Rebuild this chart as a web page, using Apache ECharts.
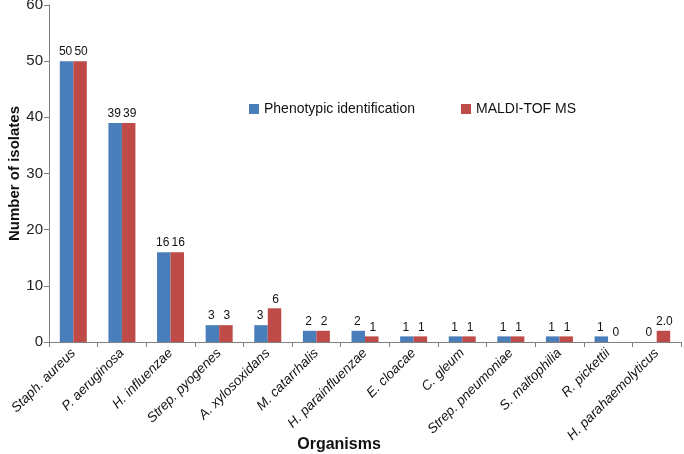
<!DOCTYPE html>
<html>
<head>
<meta charset="utf-8">
<script src="https://cdn.jsdelivr.net/npm/echarts@6/dist/echarts.min.js"></script>
<style>
  html, body { margin: 0; padding: 0; background: #fff; }
  #chart { width: 684px; height: 454px; }
</style>
</head>
<body>
<div id="chart"></div>
<script>
var organisms = ['Staph. aureus', 'P. aeruginosa', 'H. influenzae', 'Strep. pyogenes',
    'A. xylosoxidans', 'M. catarrhalis', 'H. parainfluenzae', 'E. cloacae', 'C. gleum',
    'Strep. pneumoniae', 'S. maltophilia', 'R. pickettii', 'H. parahaemolyticus'];
var phenotypic = [50, 39, 16, 3, 3, 2, 2, 1, 1, 1, 1, 1, 0];
var maldi = [50, 39, 16, 3, 6, 2, 1, 1, 1, 1, 1, 0, 2];
// printed labels (last one is shown as "2.0" in the original)
var maldiLabels = ['50', '39', '16', '3', '6', '2', '1', '1', '1', '1', '1', '0', '2.0'];
var yTicks = { min: 0, max: 60, interval: 10 };

var chart = echarts.init(document.getElementById('chart'));

var option = {
    animation: false,
    textStyle: { fontFamily: 'Liberation Sans, Arial, sans-serif' },
    grid: { left: 49, right: 3, top: 5, bottom: 112, containLabel: false, outerBoundsMode: 'none' },
    legend: {
        left: 244,
        top: 97,
        itemWidth: 10,
        itemHeight: 10,
        itemGap: 46,
        icon: 'rect',
        textStyle: { fontSize: 14, color: '#111' },
        data: ['Phenotypic identification', 'MALDI-TOF MS']
    },
    xAxis: {
        type: 'category',
        data: organisms,
        name: 'Organisms',
        nameLocation: 'middle',
        nameGap: 95,
        nameMoveOverlap: false,
        nameTextStyle: { fontSize: 16, fontWeight: 'bold', color: '#111', padding: [0, 52, 0, 0] },
        axisLine: { lineStyle: { color: '#808080', width: 1 } },
        axisTick: { show: true, length: 5, lineStyle: { color: '#808080' } },
        axisLabel: {
            rotate: 45,
            interval: 0,
            fontSize: 13.5,
            fontStyle: 'italic',
            color: '#111',
            margin: 9
        }
    },
    yAxis: {
        type: 'value',
        min: yTicks.min,
        max: yTicks.max,
        interval: yTicks.interval,
        name: 'Number of isolates',
        nameLocation: 'middle',
        nameGap: 27,
        nameMoveOverlap: false,
        nameTextStyle: { fontSize: 15, fontWeight: 'bold', color: '#111' },
        axisLine: { show: true, lineStyle: { color: '#808080', width: 1 } },
        axisTick: { show: true, length: 5, lineStyle: { color: '#808080' } },
        splitLine: { show: false },
        axisLabel: { fontSize: 15, color: '#222', margin: 6 }
    },
    series: [
        {
            name: 'Phenotypic identification',
            type: 'bar',
            data: phenotypic,
            barWidth: 13.5,
            barGap: '0%',
            itemStyle: { color: '#4A7EBB' },
            label: { show: true, position: 'top', distance: 3, offset: [-1, 0], fontSize: 12, color: '#111' }
        },
        {
            name: 'MALDI-TOF MS',
            type: 'bar',
            data: maldi,
            barWidth: 13.5,
            barGap: '0%',
            itemStyle: { color: '#BE4B48' },
            label: {
                show: true, position: 'top', distance: 3, offset: [1, 0], fontSize: 12, color: '#111',
                formatter: function (p) { return maldiLabels[p.dataIndex]; }
            }
        }
    ]
};

chart.setOption(option);
</script>
</body>
</html>
